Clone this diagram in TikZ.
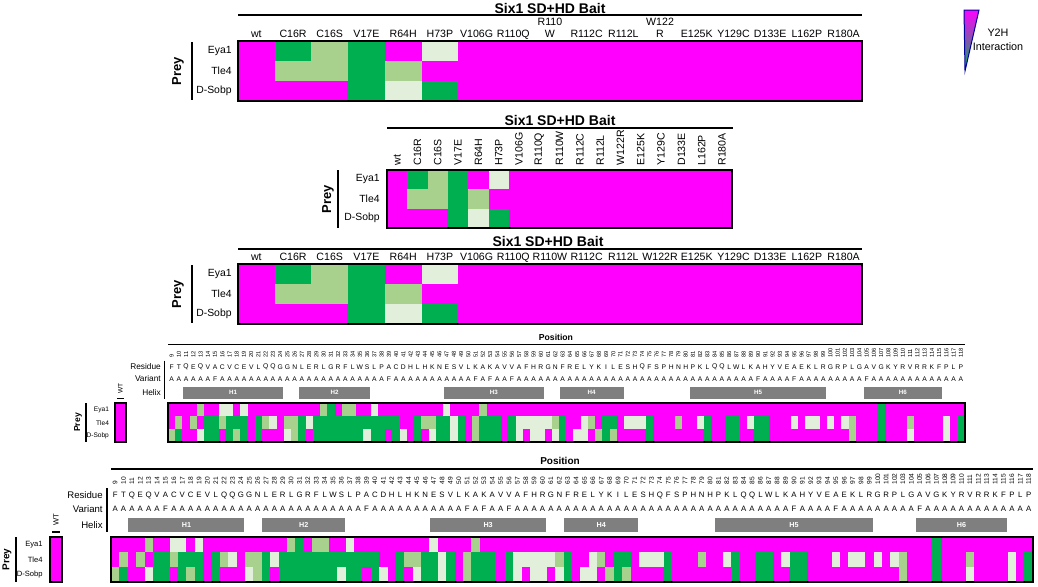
\documentclass[tikz,border=0pt]{standalone}
\usepackage{fontspec}
\setmainfont{Liberation Sans}
\usepackage{tikz}

\definecolor{y2hm}{HTML}{FF00FF}
\definecolor{y2hd}{HTML}{00B050}
\definecolor{y2hl}{HTML}{A9D18E}
\definecolor{y2hp}{HTML}{E2EFDA}
\definecolor{helixgray}{HTML}{7F7F7F}

\tikzset{
  rule/.style={line width=0.6pt},
  frame/.style={line width=0.9pt},
  baittitle/.style={font=\fontsize{7}{8}\selectfont\bfseries},
  collbl/.style={font=\fontsize{5.3}{6}\selectfont, inner sep=0pt, align=center},
  rowlbl/.style={font=\fontsize{5.2}{6}\selectfont, inner sep=0pt, anchor=east},
  preylbl/.style={font=\fontsize{6.5}{7}\selectfont\bfseries, rotate=90, inner sep=0pt},
  posnum/.style={font=\fontsize{3.3}{4}\selectfont, rotate=90, anchor=west, inner sep=0pt},
  seqchar/.style={font=\fontsize{3.9}{4}\selectfont, inner sep=0pt},
  seqlbl/.style={font=\fontsize{4.8}{5}\selectfont, inner sep=0pt, anchor=east},
  helixlbl/.style={font=\fontsize{3.6}{4}\selectfont\bfseries, text=white, inner sep=0pt},
  smalllbl/.style={font=\fontsize{3.8}{4}\selectfont, inner sep=0pt, anchor=east},
}

% bait heatmap, origin at top left corner: #1 cell width, #2 cell height
\newcommand{\baitgrid}[2]{%
  \fill[y2hm] (0,0) rectangle ({17*#1},{3*#2});
  \foreach \c/\r/\k in {1/0/d,1/1/l,2/0/l,2/1/l,3/0/d,3/1/d,3/2/d,4/1/l,4/2/p,5/0/p,5/2/d}
    \fill[y2h\k] ({\c*#1},{\r*#2}) rectangle ({(\c+1)*#1},{(\r+1)*#2});
  \draw[frame] (0,0) rectangle ({17*#1},{3*#2});
}

% sequence scan panel, origin at top left corner of the heatmap
\newcommand{\seqpanel}{%
  \def\cw{8.38}
  \node[font=\fontsize{5}{6}\selectfont\bfseries] (postitle) at (449,-76) {Position};
  \draw[rule] (0,-68) -- (922,-68);
  \foreach \i in {0,...,109}{
    \pgfmathtruncatemacro\pos{\i+9}
    \node[posnum] at ({(\i+0.5)*\cw},-52) {\pos};
  }
  \foreach \s [count=\i from 0] in {F,T,Q,E,Q,V,A,C,V,C,E,V,L,Q,Q,G,G,N,L,E,R,L,G,R,F,L,W,S,L,P,A,C,D,H,L,H,K,N,E,S,V,L,K,A,K,A,V,V,A,F,H,R,G,N,F,R,E,L,Y,K,I,L,E,S,H,Q,F,S,P,H,N,H,P,K,L,Q,Q,L,W,L,K,A,H,Y,V,E,A,E,K,L,R,G,R,P,L,G,A,V,G,K,Y,R,V,R,R,K,F,P,L,P}
    \node[seqchar] at ({(\i+0.5)*\cw},-42) {\s};
  \foreach \i in {0,...,109}{
    \gdef\varc{A}
    \foreach \f in {6,30,42,44,47,81,86,96}{\ifnum\i=\f\relax\gdef\varc{F}\fi}
    \node[seqchar] at ({(\i+0.5)*\cw},-28) {\varc};
  }
  \foreach \a/\b/\h in {2/16/H1,18/28/H2,38/52/H3,54/63/H4,72/91/H5,96/107/H6}{
    \fill[helixgray] ({\a*\cw+0.6},-19) rectangle ({\b*\cw-0.6},-5);
    \node[helixlbl] at ({(\a+\b)/2*\cw},-12) {\h};
  }
  \node[seqlbl] (residue) at (-8,-42) {Residue};
  \node[seqlbl] (variant) at (-8,-28) {Variant};
  \node[seqlbl] (helix) at (-8,-12) {Helix};
  \draw[rule] (-4,-49) -- (-4,-5);
  % heatmap
  \fill[y2hm] (0,0) rectangle (922,45);
  \foreach \a/\b/\r/\k in {
    4/4/0/l,7/8/0/p,10/10/0/p,21/21/0/l,22/22/0/d,24/25/0/l,28/28/0/p,38/38/0/p,43/43/0/l,98/98/0/d,
    1/1/1/l,3/3/1/l,5/6/1/d,7/7/1/l,8/10/1/d,12/12/1/d,13/13/1/l,14/14/1/p,16/17/1/l,18/18/1/d,19/19/1/p,
    20/31/1/d,34/34/1/d,35/36/1/l,37/38/1/d,39/39/1/p,40/40/1/d,42/42/1/l,43/45/1/d,47/47/1/d,48/52/1/p,
    53/53/1/l,54/54/1/d,57/57/1/p,58/58/1/l,60/61/1/d,63/65/1/p,66/66/1/d,70/70/1/l,73/73/1/p,74/74/1/d,
    77/78/1/d,80/80/1/p,81/82/1/d,86/86/1/p,88/89/1/p,91/91/1/p,93/93/1/p,94/94/1/l,98/98/1/d,102/102/1/l,
    107/107/1/p,109/109/1/d,
    0/0/2/l,1/1/2/d,4/4/2/p,5/6/2/d,8/8/2/d,9/9/2/l,10/10/2/d,12/12/2/d,16/16/2/p,17/17/2/l,18/18/2/d,
    20/26/2/d,27/27/2/p,28/29/2/d,31/31/2/d,32/32/2/p,34/34/2/d,36/36/2/p,37/38/2/d,39/39/2/p,40/40/2/d,
    42/42/2/l,43/45/2/d,47/47/2/d,48/48/2/p,50/51/2/p,53/53/2/p,54/54/2/d,56/57/2/p,59/59/2/l,60/60/2/d,
    61/61/2/l,66/66/2/d,74/74/2/d,77/78/2/d,81/82/2/d,94/94/2/l,98/98/2/d,102/102/2/p,107/107/2/p,109/109/2/d}
    \fill[y2h\k] ({\a*\cw},{\r*15}) rectangle ({(\b+1)*\cw},{(\r+1)*15});
  \draw[frame] (0,0) rectangle (922,45);
  % wild type
  \node[smalllbl, rotate=90, anchor=center] (wt) at (-55,-17) {WT};
  \draw[rule] (-59,-5) -- (-51,-5);
  \fill[y2hm] (-61,0) rectangle (-49,45);
  \draw[frame] (-61,0) rectangle (-49,45);
  \node[smalllbl] (eya) at (-68,8) {Eya1};
  \node[smalllbl] (tle) at (-68,23) {Tle4};
  \node[smalllbl] (sobp) at (-68,38) {D-Sobp};
  \draw[rule] (-95,0) -- (-95,45);
  \node[preylbl, font=\fontsize{5}{6}\selectfont\bfseries] (prey) at (-104,22.5) {Prey};
}

\begin{document}
\begin{tikzpicture}[x=0.5pt,y=-0.5pt]
\useasboundingbox (0,0) rectangle (1038,586);

% legend
\shade[top color=y2hm, middle color=white, bottom color=y2hd] (964,10) -- (979,10) -- (965,71) -- cycle;
\draw[blue!60!black, line width=0.5pt] (964,10) -- (979,10) -- (965,71) -- cycle;
\node[font=\fontsize{5.4}{7}\selectfont, align=center] (legend) at (998,40) {Y2H\\Interaction};

% panel A
\node[baittitle] (titleA) at (550,8) {Six1 SD+HD Bait};
\draw[rule] (238,15) -- (862,15);
\foreach \t [count=\i from 0] in {wt,C16R,C16S,V17E,R64H,H73P,V106G,R110Q,{R110\\W},R112C,R112L,{W122\\R},E125K,Y129C,D133E,L162P,R180A}
  \node[collbl, anchor=south, text depth=0pt] at ({238+(\i+0.5)*36.7},38) {\t};
\begin{scope}[shift={(238,41)}]
  \baitgrid{36.7}{20}
\end{scope}
\node[preylbl] (preyA) at (178,71) {Prey};
\draw[rule] (192,42) -- (192,100);
\node[rowlbl] (eyaA) at (232,51) {Eya1};
\node[rowlbl] (tleA) at (232,71) {Tle4};
\node[rowlbl] (sobpA) at (232,91) {D-Sobp};

% panel B
\node[baittitle] (titleB) at (560,120) {Six1 SD+HD Bait};
\draw[rule] (387,128) -- (733,128);
\foreach \t [count=\i from 0] in {wt,C16R,C16S,V17E,R64H,H73P,V106G,R110Q,R110W,R112C,R112L,W122R,E125K,Y129C,D133E,L162P,R180A}
  \node[collbl, rotate=90, anchor=west] at ({387+(\i+0.5)*20.3},166) {\t};
\begin{scope}[shift={(387,170)}]
  \baitgrid{20.3}{19.3}
\end{scope}
\node[preylbl] (preyB) at (328,199) {Prey};
\draw[rule] (338,170) -- (338,228);
\node[rowlbl] (eyaB) at (380,179) {Eya1};
\node[rowlbl] (tleB) at (380,199) {Tle4};
\node[rowlbl] (sobpB) at (380,218) {D-Sobp};

% panel C
\node[baittitle] (titleC) at (548,241) {Six1 SD+HD Bait};
\draw[rule] (238,249) -- (862,249);
\foreach \t [count=\i from 0] in {wt,C16R,C16S,V17E,R64H,H73P,V106G,R110Q,R110W,R112C,R112L,W122R,E125K,Y129C,D133E,L162P,R180A}
  \node[collbl, anchor=south, text depth=0pt] at ({238+(\i+0.5)*36.7},261) {\t};
\begin{scope}[shift={(238,264)}]
  \baitgrid{36.7}{20}
\end{scope}
\node[preylbl] (preyC) at (178,294) {Prey};
\draw[rule] (192,265) -- (192,323);
\node[rowlbl] (eyaC) at (232,274) {Eya1};
\node[rowlbl] (tleC) at (232,294) {Tle4};
\node[rowlbl] (sobpC) at (232,314) {D-Sobp};

% panel D (reduced copy)
\begin{scope}[shift={(168,403)}, scale=0.864, transform shape]
  \seqpanel
\end{scope}

% panel E
\begin{scope}[shift={(111,537)}]
  \seqpanel
\end{scope}

\end{tikzpicture}
\end{document}
